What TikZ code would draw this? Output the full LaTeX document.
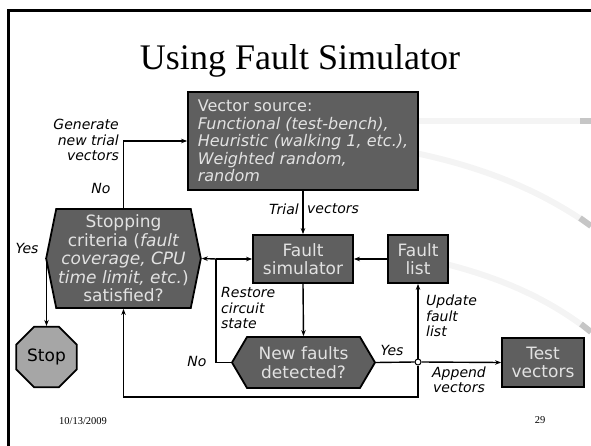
\documentclass[tikz,border=0pt]{standalone}
\usepackage{fontspec}
\setmainfont{Liberation Serif}
\newfontfamily\dvsans{DejaVu Sans}
\usetikzlibrary{shapes.symbols,shapes.geometric,arrows.meta}
\definecolor{boxfill}{HTML}{5F5F5F}
\definecolor{boxtxt}{HTML}{E2E2E2}
\definecolor{stopfill}{HTML}{A6A6A6}
\begin{document}
\begin{tikzpicture}[x=1pt,y=-1pt,
    >={Stealth[length=6pt,width=4.5pt]},
    conn/.style={line width=1.4pt},
    block/.style={draw=black, line width=1.8pt, fill=boxfill, text=boxtxt, align=center,
      inner sep=2pt, font=\dvsans\fontsize{17}{18.5}\selectfont},
    hexblock/.style={block, signal, signal to=west and east},
    lbl/.style={font=\dvsans\itshape\fontsize{14}{15.5}\selectfont, inner sep=0pt},
    swoosh/.style={line width=6pt, gray!9},
    swooshend/.style={line width=6pt, gray!45}]
  \useasboundingbox (0,0) rectangle (591,446);
  % background swooshes
  \draw[swoosh] (360,121) -- (591,121);
  \draw[swooshend] (580,121) -- (591,121);
  \draw[swoosh] (400,150) .. controls (480,165) and (540,190) .. (591,226);
  \draw[swooshend] (580,218) -- (591,226);
  \draw[swoosh] (420,258) .. controls (500,275) and (550,300) .. (591,332);
  \draw[swooshend] (581,324) -- (591,332);
  % slide frame and title
  \draw[line width=2.5pt] (8.5,446) -- (8.5,10.5) -- (591,10.5);
  \node[font=\fontsize{36}{40}\selectfont, anchor=base] (title) at (300,70) {Using Fault Simulator};

  % blocks
  \node[block, align=left, font=\dvsans\fontsize{16}{17.5}\selectfont,
    minimum width=230pt, minimum height=98pt] (vsrc) at (303,141)
    {Vector source:\\\itshape Functional (test-bench),\\\itshape Heuristic (walking 1, etc.),\\\itshape Weighted random,\\\itshape random};
  \node[block, minimum width=100pt, minimum height=48pt] (fsim) at (303,259) {Fault\\simulator};
  \node[block, minimum width=60pt, minimum height=48pt] (flist) at (418,259) {Fault\\list};
  \node[block, minimum width=82pt, minimum height=49pt] (test) at (543,362.5) {Test\\vectors};
  \node[hexblock, signal pointer angle=157, minimum width=141pt, minimum height=99pt] (crit) at (123.5,258.5)
    {Stopping\\criteria (\textit{fault}\\\textit{coverage, CPU}\\\textit{time limit, etc.})\\satisfied?};
  \node[hexblock, signal pointer angle=119, minimum width=143pt, minimum height=51pt] (newf) at (303.5,362.5)
    {New faults\\detected?};
  \node[block, regular polygon, regular polygon sides=8, minimum size=54pt, fill=stopfill, text=black]
    (stop) at (46.5,357) {Stop};
  \node[circle, draw, fill=white, line width=1pt, inner sep=0pt, minimum size=6pt] (jn) at (418,362) {};
  \coordinate (rs) at (216,259);
  \coordinate (loopc) at (418,397);

  % connectors
  \draw[conn,->] (crit.north) |- (vsrc.west);
  \draw[conn,->] (vsrc.south) -- (fsim.north);
  \draw[conn,->] (flist.west) -- (fsim.east);
  \draw[conn,->] (fsim.south) -- (newf.north);
  \draw[conn] (newf.west) -| (rs);
  \draw[conn,->] (rs) -- (crit.east);
  \draw[conn,->] (rs) -- (fsim.west);
  \draw[conn,->] (crit.west) -| (stop.north);
  \draw[conn] (newf.east) -- (jn.west);
  \draw[conn,->] (jn.east) -- (test.west);
  \draw[conn,->] (jn.north) -- (flist.south);
  \draw[conn,->] (jn.south) -- (loopc) -| (crit.south);

  % labels
  \node[lbl, anchor=east, align=right] (genlbl) at (119,140) {Generate\\new trial\\vectors};
  \node[lbl] (nolbl1) at (101,188) {No};
  \node[lbl] (yeslbl1) at (27,248) {Yes};
  \node[lbl, anchor=east] (triallbl) at (299,209) {Trial};
  \node[lbl, anchor=west] (veclbl) at (307,209) {vectors};
  \node[lbl, anchor=west, align=left] (restlbl) at (221,308) {Restore\\circuit\\state};
  \node[lbl] (nolbl2) at (197,361) {No};
  \node[lbl] (yeslbl2) at (392,350) {Yes};
  \node[lbl, anchor=west, align=left] (updlbl) at (426,316) {Update\\fault\\list};
  \node[lbl, align=center] (applbl) at (459,380) {Append\\vectors};

  % footer
  \node[font=\fontsize{10.5}{12}\selectfont] (date) at (83,421) {10/13/2009};
  \node[font=\fontsize{10.5}{12}\selectfont] (pagenum) at (540,420) {29};
\end{tikzpicture}
\end{document}
